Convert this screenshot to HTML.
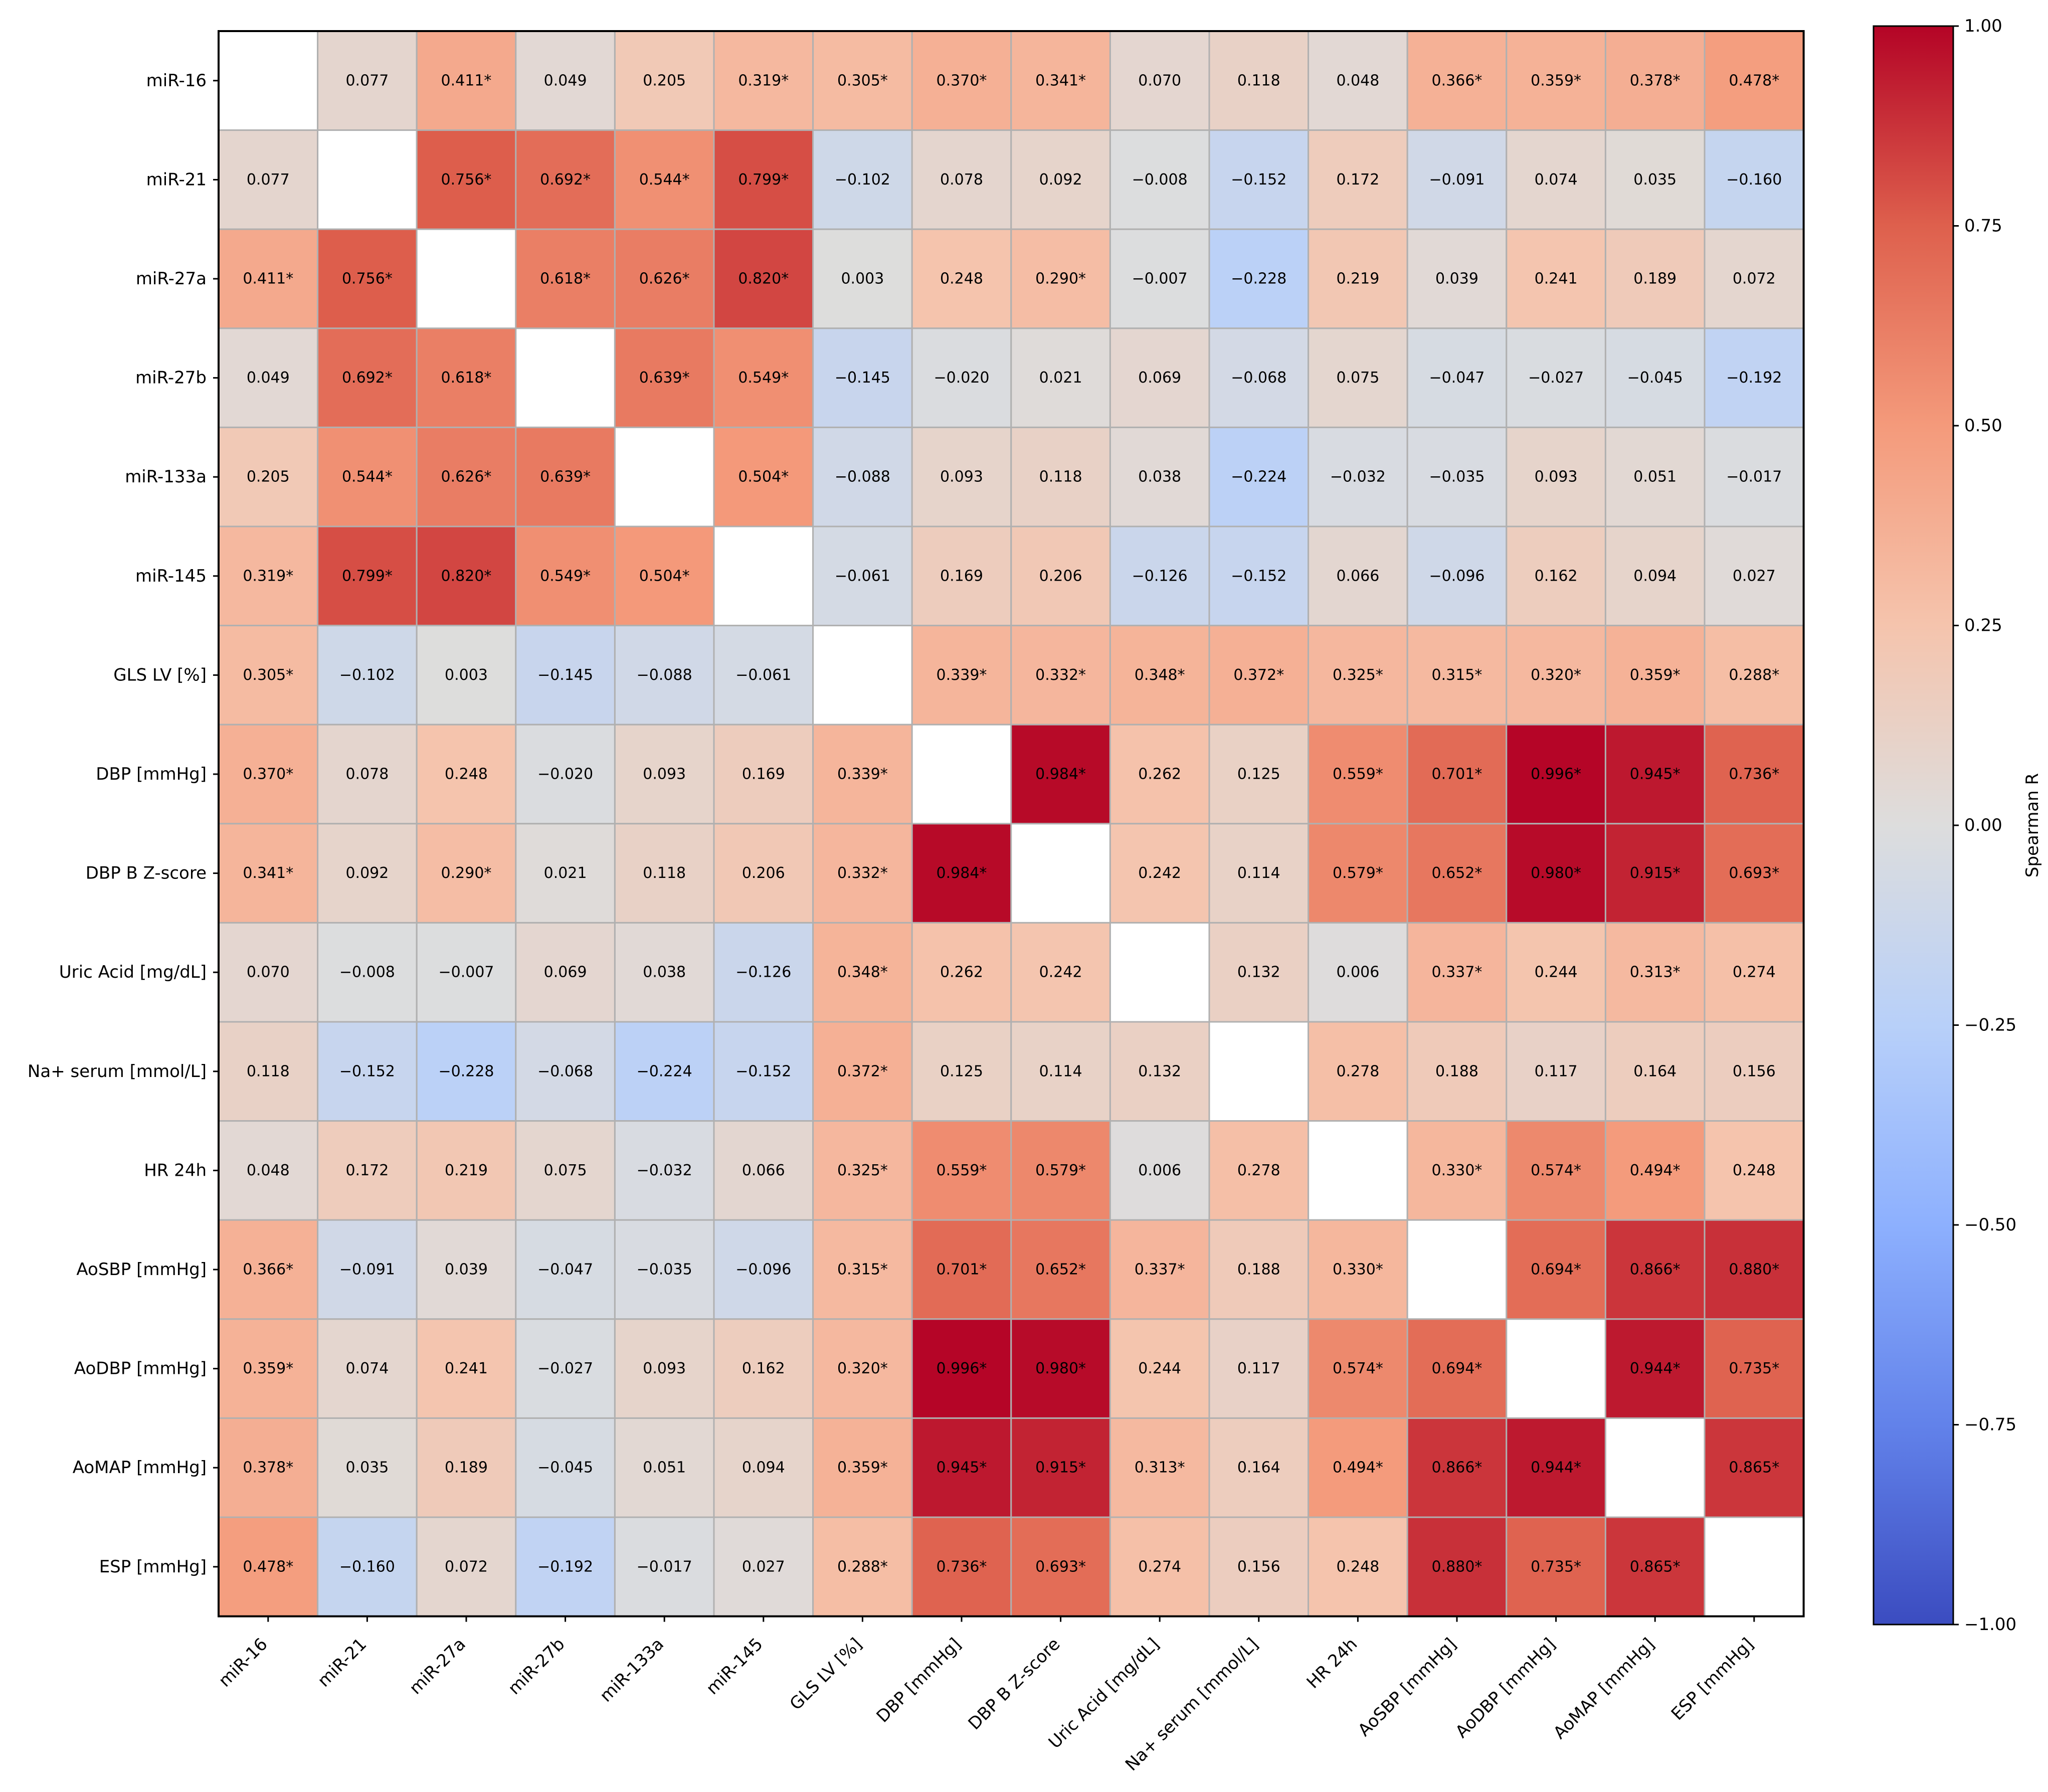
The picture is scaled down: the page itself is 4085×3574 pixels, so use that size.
<!DOCTYPE html>
<html><head><meta charset="utf-8"><style>
html,body{margin:0;padding:0;background:#fff}
svg{display:block}
text{font-family:"DejaVu Sans","Liberation Sans",sans-serif;fill:#000}
</style></head><body>
<svg id="chart" xmlns="http://www.w3.org/2000/svg" width="4085" height="3574" viewBox="0 0 4085 3574">
<defs><linearGradient id="cbgrad" x1="0" y1="1" x2="0" y2="0">
<stop offset="0" stop-color="rgb(59,76,192)"/><stop offset="0.125" stop-color="rgb(98,130,234)"/><stop offset="0.25" stop-color="rgb(141,176,254)"/><stop offset="0.375" stop-color="rgb(184,208,249)"/><stop offset="0.5" stop-color="rgb(221,221,221)"/><stop offset="0.625" stop-color="rgb(245,196,173)"/><stop offset="0.75" stop-color="rgb(244,154,123)"/><stop offset="0.875" stop-color="rgb(222,96,77)"/><stop offset="1" stop-color="rgb(180,4,38)"/>
</linearGradient></defs>
<g id="cells"></g><g id="annots"></g><g id="axes"></g><g id="cbar"></g>
</svg>
<script>
const labels = ["miR-16","miR-21","miR-27a","miR-27b","miR-133a","miR-145","GLS LV [%]","DBP [mmHg]","DBP B Z-score","Uric Acid [mg/dL]","Na+ serum [mmol/L]","HR 24h","AoSBP [mmHg]","AoDBP [mmHg]","AoMAP [mmHg]","ESP [mmHg]"];
// upper-triangle values, row i lists columns i+1..15
const upperValues = [
[0.077,0.411,0.049,0.205,0.319,0.305,0.370,0.341,0.070,0.118,0.048,0.366,0.359,0.378,0.478],
[0.756,0.692,0.544,0.799,-0.102,0.078,0.092,-0.008,-0.152,0.172,-0.091,0.074,0.035,-0.160],
[0.618,0.626,0.820,0.003,0.248,0.290,-0.007,-0.228,0.219,0.039,0.241,0.189,0.072],
[0.639,0.549,-0.145,-0.020,0.021,0.069,-0.068,0.075,-0.047,-0.027,-0.045,-0.192],
[0.504,-0.088,0.093,0.118,0.038,-0.224,-0.032,-0.035,0.093,0.051,-0.017],
[-0.061,0.169,0.206,-0.126,-0.152,0.066,-0.096,0.162,0.094,0.027],
[0.339,0.332,0.348,0.372,0.325,0.315,0.320,0.359,0.288],
[0.984,0.262,0.125,0.559,0.701,0.996,0.945,0.736],
[0.242,0.114,0.579,0.652,0.980,0.915,0.693],
[0.132,0.006,0.337,0.244,0.313,0.274],
[0.278,0.188,0.117,0.164,0.156],
[0.330,0.574,0.494,0.248],
[0.694,0.866,0.880],
[0.944,0.735],
[0.865]
];
const upperSig = [
[0,1,0,0,1,1,1,1,0,0,0,1,1,1,1],
[1,1,1,1,0,0,0,0,0,0,0,0,0,0],
[1,1,1,0,0,1,0,0,0,0,0,0,0],
[1,1,0,0,0,0,0,0,0,0,0,0],
[1,0,0,0,0,0,0,0,0,0,0],
[0,0,0,0,0,0,0,0,0,0],
[1,1,1,1,1,1,1,1,1],
[1,0,0,1,1,1,1,1],
[0,0,1,1,1,1,1],
[0,0,1,0,1,0],
[0,0,0,0,0],
[1,1,1,0],
[1,1,1],
[1,1],
[1]
];
const cbTicks = [1.00,0.75,0.50,0.25,0.00,-0.25,-0.50,-0.75,-1.00];

const NS="http://www.w3.org/2000/svg";
const L=436, T=62, C=197.6, N=labels.length;
const xPos = j => L + j*C;
const yPos = i => T + i*C;
const CB = {x:3737, w:159, top:52, bottom:3240};
const cbY = v => CB.top + (1 - (v+1)/2)*(CB.bottom-CB.top);
const stops=[[59,76,192],[98,130,234],[141,176,254],[184,208,249],[221,221,221],[245,196,173],[244,154,123],[222,96,77],[180,4,38]];
function cmap(v){let t=(v+1)/2*8;t=Math.max(0,Math.min(8,t));const k=Math.min(7,Math.floor(t)),f=t-k;const a=stops[k],b=stops[k+1];return `rgb(${a.map((x,i)=>Math.round(x+(b[i]-x)*f)).join(',')})`;}
function el(tag,attrs,parent,txt){const e=document.createElementNS(NS,tag);for(const k in attrs)e.setAttribute(k,attrs[k]);if(txt!==undefined)e.textContent=txt;parent.appendChild(e);return e;}
function getVal(i,j){if(i===j)return null;const a=Math.min(i,j),b=Math.max(i,j);return {v:upperValues[a][b-a-1],s:upperSig[a][b-a-1]};}
function fmt(v){const s=Math.abs(v).toFixed(3);return (v<0?"\u2212":"")+s;}

const gCells=document.getElementById('cells'),gAnn=document.getElementById('annots'),gAx=document.getElementById('axes'),gCb=document.getElementById('cbar');
for(let i=0;i<N;i++)for(let j=0;j<N;j++){
  const d=getVal(i,j);
  const r=el('rect',{x:xPos(j),y:yPos(i),width:C,height:C,fill:d?cmap(d.v):'#ffffff',stroke:'#b0b0b0','stroke-width':3},gCells);
  
  
  if(d){
    const t=el('text',{x:xPos(j)+C/2,y:yPos(i)+C/2,'font-size':30,'text-anchor':'middle','dominant-baseline':'central'},gAnn,fmt(d.v)+(d.s?'*':''));
    
    
  }
}
const frame=el('rect',{x:L,y:T,width:C*N,height:C*N,fill:'none',stroke:'#000','stroke-width':4},gAx);


for(let k=0;k<N;k++){
  const cy=yPos(k)+C/2, cx=xPos(k)+C/2, bot=T+C*N;
  el('line',{x1:L-11,y1:cy,x2:L,y2:cy,stroke:'#000','stroke-width':3},gAx);
  const yl=el('text',{x:L-24,y:cy,'font-size':34,'text-anchor':'end','dominant-baseline':'central'},gAx,labels[k]);
  
  
  el('line',{x1:cx,y1:bot,x2:cx,y2:bot+11,stroke:'#000','stroke-width':3},gAx);
  const xl=el('text',{x:0,y:0,'font-size':34,'text-anchor':'end','dominant-baseline':'hanging',transform:`translate(${cx-17},${bot+40}) rotate(-45)`},gAx,labels[k]);
  
  
}
const cbr=el('rect',{x:CB.x,y:CB.top,width:CB.w,height:CB.bottom-CB.top,fill:'url(#cbgrad)',stroke:'#000','stroke-width':3},gCb);


cbTicks.forEach(v=>{
  const y=cbY(v);
  el('line',{x1:CB.x+CB.w,y1:y,x2:CB.x+CB.w+11,y2:y,stroke:'#000','stroke-width':3},gCb);
  const t=el('text',{x:CB.x+CB.w+22,y:y,'font-size':34,'dominant-baseline':'central'},gCb,(v<0?"\u2212":"")+Math.abs(v).toFixed(2));
  
  
});
const cl=el('text',{x:0,y:0,'font-size':34,'text-anchor':'middle',transform:`translate(4065,${(CB.top+CB.bottom)/2}) rotate(-90)`},gCb,'Spearman R');


</script>
</body></html>
